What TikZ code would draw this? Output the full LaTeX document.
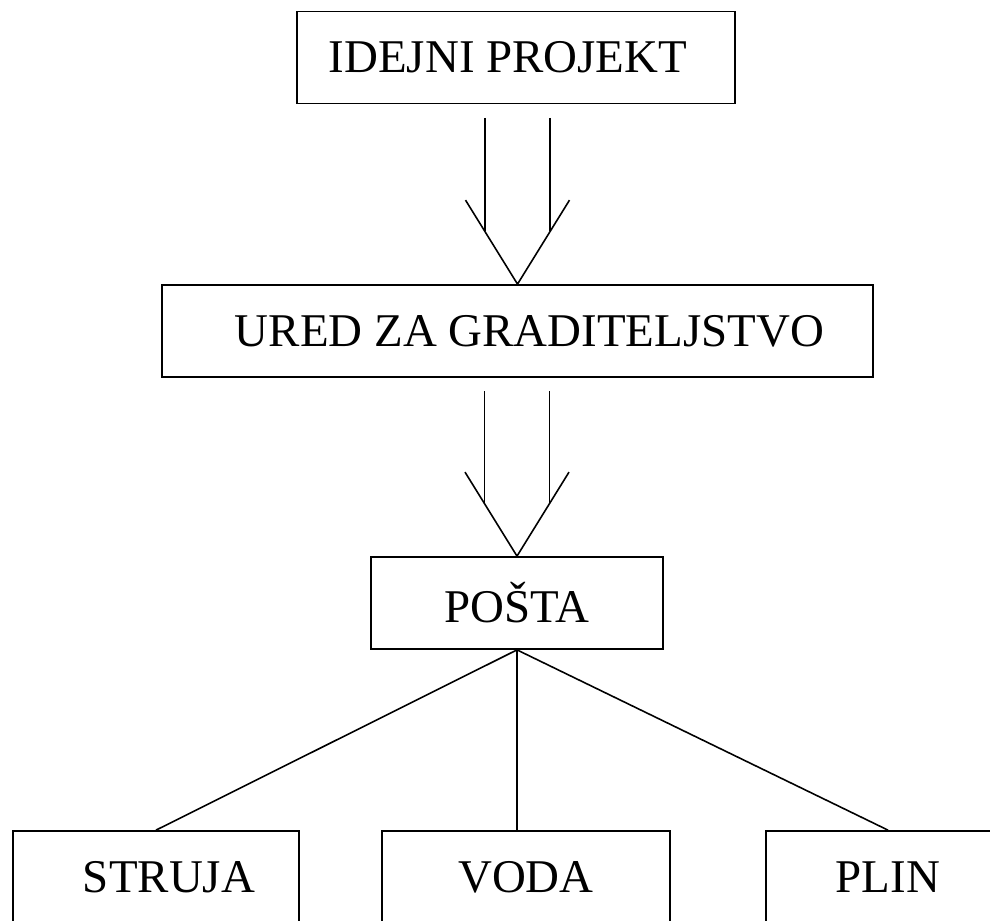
\documentclass[tikz,border=0pt]{standalone}
\usepackage{fontspec}
\setmainfont{Liberation Serif}
\usetikzlibrary{calc}
\tikzset{
  blok/.style={draw, line width=1pt, minimum height=1.84cm, inner sep=0pt,
    font=\fontsize{26.7}{32}\selectfont},
  veza/.style={line width=0.9pt}
}
\begin{document}
\begin{tikzpicture}
      \useasboundingbox (0,0) rectangle (19.8,-18.42);

      \node[blok, minimum width=8.76cm] (idejni) at (10.32,-1.15) {IDEJNI PROJEKT\hspace*{0.32cm}};
      \node[blok, minimum width=14.22cm] (ured) at (10.35,-6.62) {\hspace*{0.48cm}URED ZA GRADITELJSTVO};
      \node[blok, minimum width=5.84cm] (posta) at (10.34,-12.06) {POŠTA};

      \node[blok, minimum width=5.72cm] (struja) at (3.12,-17.54) {\hspace*{0.52cm}STRUJA};
      \node[blok, minimum width=5.76cm] (voda) at (10.52,-17.54) {VODA};
      \node[blok, minimum width=4.88cm] (plin) at (17.76,-17.54) {PLIN};

      % dvostruke strelice
      \foreach \a/\b in {idejni/ured, ured/posta} {
        \draw[veza] ($(\b.north |- \a.south)+(-0.65,-0.27)$) -- ($(\b.north)+(-0.65,1.06)$);
        \draw[veza] ($(\b.north |- \a.south)+(0.65,-0.27)$) -- ($(\b.north)+(0.65,1.06)$);
        \draw[veza] ($(\b.north)+(-1.04,1.68)$) -- (\b.north) -- ($(\b.north)+(1.04,1.68)$);
      }

      \draw[veza] (posta.south) -- (struja.north);
      \draw[veza] (posta.south) -- (posta.south |- voda.north);
      \draw[veza] (posta.south) -- (plin.north);
\end{tikzpicture}
\end{document}
